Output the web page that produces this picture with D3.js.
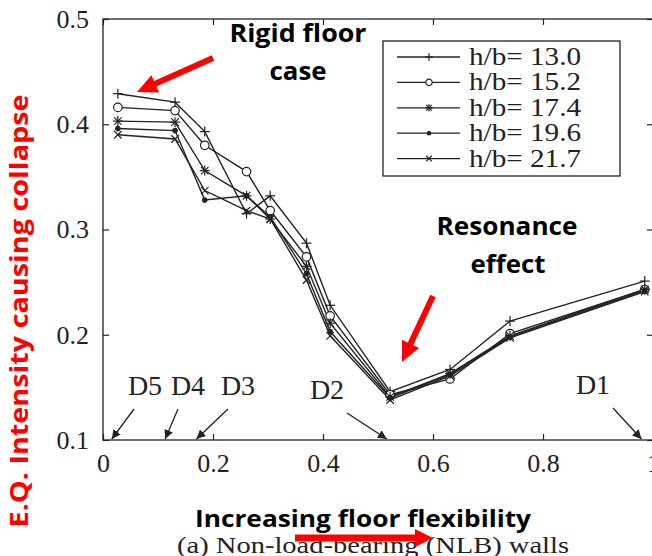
<!DOCTYPE html>
<html><head><meta charset="utf-8">
<script src="https://d3js.org/d3.v7.min.js"></script>
<style>body{margin:0;background:#fff}svg{display:block}</style>
</head><body><div id="chart"></div>
<script>
const xValues = [0.027, 0.131, 0.185, 0.261, 0.304, 0.370, 0.413, 0.522, 0.631, 0.740, 0.985];
const seriesNames = ["h/b= 13.0", "h/b= 15.2", "h/b= 17.4", "h/b= 19.6", "h/b= 21.7"];
const markerTypes = ["plus", "circle", "star", "dot", "cross"];
const s130 = [0.429, 0.421, 0.393, 0.315, 0.332, 0.287, 0.228, 0.146, 0.167, 0.213, 0.251];
const s152 = [0.416, 0.413, 0.380, 0.355, 0.318, 0.274, 0.218, 0.143, 0.158, 0.201, 0.243];
const s174 = [0.403, 0.402, 0.356, 0.332, 0.310, 0.265, 0.211, 0.141, 0.163, 0.199, 0.243];
const s196 = [0.396, 0.394, 0.328, 0.332, 0.312, 0.258, 0.203, 0.140, 0.162, 0.198, 0.242];
const s217 = [0.390, 0.386, 0.337, 0.318, 0.310, 0.252, 0.199, 0.138, 0.161, 0.197, 0.241];
const seriesValues = [s130, s152, s174, s196, s217];
const xTicks = [0, 0.2, 0.4, 0.6, 0.8, 1];
const yTicks = [0.1, 0.2, 0.3, 0.4, 0.5];
const dLabels = ["D5", "D4", "D3", "D2", "D1"];
const dTargets = [0.016, 0.113, 0.170, 0.516, 0.979];

const W = 652, H = 556;
const svg = d3.select("#chart").append("svg").attr("width", W).attr("height", H);
svg.append("rect").attr("width", W).attr("height", H).attr("fill", "#fff");

const x = d3.scaleLinear().domain([0, 1]).range([103, 653]);
const y = d3.scaleLinear().domain([0.1, 0.5]).range([440, 19]);
const ink = "#222";

const g = svg.append("g");
g.append("rect").attr("x", x(0)).attr("y", y(0.5)).attr("width", x(1) - x(0)).attr("height", y(0.1) - y(0.5))
  .attr("fill", "none").attr("stroke", ink).attr("stroke-width", 1.3);

const serif = "'Liberation Serif','Times New Roman',serif";
const xAxisB = d3.axisBottom(x).tickValues(xTicks).tickSize(-6).tickPadding(14).tickFormat(d3.format("~g"));
const xAxisT = d3.axisTop(x).tickValues(xTicks).tickSize(-6).tickFormat("");
const yAxisL = d3.axisLeft(y).tickValues(yTicks).tickSize(-6).tickPadding(14).tickFormat(d3.format(".1f"));
const yAxisR = d3.axisRight(y).tickValues(yTicks).tickSize(-6).tickFormat("");
function style(sel) {
  sel.select(".domain").remove();
  sel.selectAll("line").attr("stroke", ink).attr("stroke-width", 1.2);
  sel.selectAll("text").attr("font-family", serif).attr("font-size", 26).attr("fill", "#222");
}
g.append("g").attr("transform", `translate(0,${y(0.1)})`).call(xAxisB).call(style);
g.append("g").attr("transform", `translate(0,${y(0.5)})`).call(xAxisT).call(style);
g.append("g").attr("transform", `translate(${x(0)},0)`).call(yAxisL).call(style);
g.append("g").attr("transform", `translate(${x(1)},0)`).call(yAxisR).call(style);

function drawMarker(sel, type, cx, cy, s) {
  const m = sel.append("g").attr("transform", `translate(${cx},${cy})`)
    .attr("stroke", ink).attr("stroke-width", 1.2).attr("fill", "none");
  if (type === "plus" || type === "star") {
    m.append("line").attr("x1", -s).attr("x2", s).attr("y1", 0).attr("y2", 0);
    m.append("line").attr("x1", 0).attr("x2", 0).attr("y1", -s).attr("y2", s);
  }
  if (type === "cross" || type === "star") {
    const k = s * 0.75;
    m.append("line").attr("x1", -k).attr("x2", k).attr("y1", -k).attr("y2", k);
    m.append("line").attr("x1", -k).attr("x2", k).attr("y1", k).attr("y2", -k);
  }
  if (type === "circle") m.append("circle").attr("r", s * 0.85).attr("fill", "#fff");
  if (type === "dot") m.append("circle").attr("r", s * 0.45).attr("fill", ink);
}

const line = d3.line().x((d, i) => x(xValues[i])).y(d => y(d));
seriesValues.forEach((vals) => {
  svg.append("path").datum(vals).attr("d", line).attr("fill", "none")
    .attr("stroke", ink).attr("stroke-width", 1.4);
});
seriesValues.forEach((vals, si) => {
  vals.forEach((v, i) => drawMarker(svg, markerTypes[si], x(xValues[i]), y(v), 5));
});

const lg = svg.append("g");
lg.append("rect").attr("x", 383).attr("y", 41).attr("width", 237).attr("height", 135)
  .attr("fill", "#fff").attr("stroke", ink).attr("stroke-width", 1.3);
seriesNames.forEach((n, i) => {
  const yy = 57 + i * 25.4;
  lg.append("line").attr("x1", 397).attr("x2", 460).attr("y1", yy).attr("y2", yy)
    .attr("stroke", ink).attr("stroke-width", 1.3);
  drawMarker(lg, markerTypes[i], 429, yy, 3.8);
  lg.append("text").attr("x", 469).attr("y", yy + 8).text(n)
    .attr("font-family", serif).attr("font-size", 25).attr("fill", "#222")
    .attr("textLength", 112).attr("lengthAdjust", "spacingAndGlyphs");
});

const dLabelPos = [[145, 395], [188, 395], [238, 395], [327, 399], [593, 394]];
const dTails = [[134, 409], [178, 409], [228, 409], [347, 413], [613, 408]];
const defs = svg.append("defs");
defs.append("marker").attr("id", "ah").attr("viewBox", "0 0 10 10").attr("refX", 10).attr("refY", 5)
  .attr("markerWidth", 9).attr("markerHeight", 9).attr("markerUnits", "userSpaceOnUse").attr("orient", "auto")
  .append("path").attr("d", "M0,0L10,5L0,10z").attr("fill", "#222");
dLabels.forEach((t, i) => {
  svg.append("text").attr("x", dLabelPos[i][0]).attr("y", dLabelPos[i][1]).attr("text-anchor", "middle")
    .attr("font-family", serif).attr("font-size", 28).attr("fill", "#222").text(t);
  svg.append("line").attr("x1", dTails[i][0]).attr("y1", dTails[i][1])
    .attr("x2", x(dTargets[i])).attr("y2", y(0.1) - 1)
    .attr("stroke", "#222").attr("stroke-width", 1.3).attr("marker-end", "url(#ah)");
});

function blockArrow(x1, y1, x2, y2, w, hw, hl) {
  const dx = x2 - x1, dy = y2 - y1, L = Math.hypot(dx, dy);
  const ux = dx / L, uy = dy / L, nx = -uy, ny = ux;
  const bx = x2 - ux * hl, by = y2 - uy * hl;
  const pts = [
    [x1 + nx * w / 2, y1 + ny * w / 2], [bx + nx * w / 2, by + ny * w / 2], [bx + nx * hw / 2, by + ny * hw / 2],
    [x2, y2], [bx - nx * hw / 2, by - ny * hw / 2], [bx - nx * w / 2, by - ny * w / 2], [x1 - nx * w / 2, y1 - ny * w / 2]];
  svg.append("polygon").attr("points", pts.map(p => p.join(",")).join(" ")).attr("fill", "#f00");
}
blockArrow(213, 58, 137, 92, 6, 19, 20);
blockArrow(433, 296, 402, 362, 6, 19, 20);

const sans = "'Open Sans','Noto Sans',sans-serif";
function bold(t, cx, by, len, fs, fill) {
  svg.append("text").attr("x", cx).attr("y", by).attr("text-anchor", "middle")
    .attr("font-family", sans).attr("font-weight", "bold").attr("font-size", fs).attr("fill", fill || "#000")
    .attr("textLength", len).attr("lengthAdjust", "spacingAndGlyphs").text(t);
}
bold("Rigid floor", 298, 42, 137, 25);
bold("case", 298, 80, 57, 25);
bold("Resonance", 507, 235, 141, 25);
bold("effect", 508, 273, 75, 25);

svg.append("text").attr("x", 373).attr("y", 553).attr("text-anchor", "middle")
  .attr("font-family", serif).attr("font-size", 23).attr("fill", "#222")
  .attr("textLength", 392).attr("lengthAdjust", "spacingAndGlyphs").text("(a) Non-load-bearing (NLB) walls");
bold("Increasing floor flexibility", 363, 527, 336, 24);
blockArrow(295, 538, 433, 538, 7, 18, 18);

svg.append("text").attr("transform", "translate(28,311) rotate(-90)").attr("text-anchor", "middle")
  .attr("font-family", sans).attr("font-weight", "bold").attr("font-size", 25).attr("fill", "#f00")
  .attr("textLength", 433).attr("lengthAdjust", "spacingAndGlyphs").text("E.Q. Intensity causing collapse");
</script></body></html>
